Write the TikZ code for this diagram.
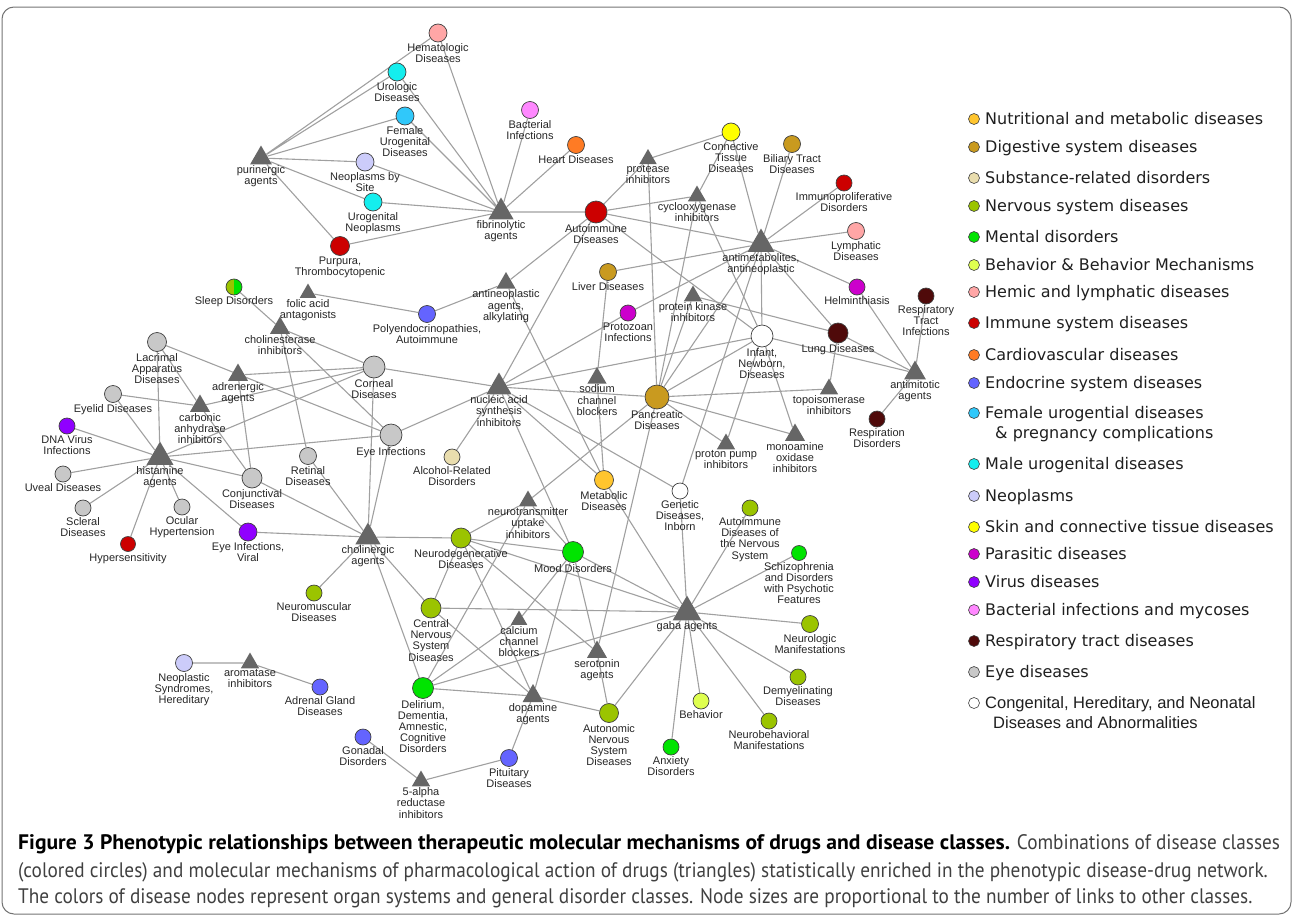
\documentclass[tikz,border=0pt]{standalone}
\usepackage{fontspec}
\setmainfont{Liberation Sans}
\newfontfamily\legfont{DejaVu Sans}
\newfontfamily\capfont[FakeStretch=0.917,BoldFeatures={FakeStretch=1.03}]{PT Sans}
\usetikzlibrary{shapes.geometric}
\pgfdeclarelayer{background}
\pgfsetlayers{background,main}
% disease class colours
\definecolor{nutri}{HTML}{FFC52E}
\definecolor{digest}{HTML}{C99A1F}
\definecolor{subst}{HTML}{E9DDAE}
\definecolor{nerv}{HTML}{9BC400}
\definecolor{mental}{HTML}{00E400}
\definecolor{behav}{HTML}{DFFF4F}
\definecolor{hemic}{HTML}{FFA6A6}
\definecolor{immune}{HTML}{CC0000}
\definecolor{cardio}{HTML}{FF7B24}
\definecolor{endo}{HTML}{6464FF}
\definecolor{female}{HTML}{30C8FA}
\definecolor{male}{HTML}{14EEEE}
\definecolor{neopl}{HTML}{CCCCFA}
\definecolor{skin}{HTML}{FFFF00}
\definecolor{parasit}{HTML}{CC00CC}
\definecolor{virus}{HTML}{9000FF}
\definecolor{bact}{HTML}{FF88FF}
\definecolor{resp}{HTML}{4F0A0A}
\definecolor{eye}{HTML}{C8C8C8}
\definecolor{edgegray}{HTML}{A0A0A0}
\definecolor{druggray}{HTML}{666666}
\begin{document}
\begin{tikzpicture}[x=1pt,y=-1pt,
    dis/.style={circle,draw=black!75,line width=0.7pt,inner sep=0pt,minimum size=#1},
    dis/.default=17,
    drug/.style={regular polygon,regular polygon sides=3,fill=druggray,inner sep=0pt,minimum size=#1},
    drug/.default=21,
    link/.style={draw=edgegray,line width=1.1pt},
    every label/.style={font=\fontsize{11}{11.2}\selectfont,align=center,inner sep=1pt,text=black!85},
    keyc/.style={circle,draw=black!75,line width=0.6pt,inner sep=0pt,minimum size=11},
    keyt/.style={anchor=base west,font=\legfont\fontsize{16}{19}\selectfont,text=black!88,inner sep=0pt},
    capt/.style={anchor=base west,font=\capfont\fontsize{21}{24}\selectfont,text=black!75,inner sep=0pt}]
\useasboundingbox (0,0) rectangle (1293,918);
\draw[black!55,line width=1pt,rounded corners=12] (2,7) rectangle (1291,914);

% ------ disease classes (circles) ------
\node[dis=18,fill=hemic,label={below:Hematologic\\Diseases}] (hemat) at (438,33) {};
\node[dis=18,fill=male,label={below:Urologic\\Diseases}] (urolog) at (397,72) {};
\node[dis=18,fill=female,label={below:Female\\Urogenital\\Diseases}] (femuro) at (405,116) {};
\node[dis=18,fill=neopl,label={below:Neoplasms by\\Site}] (neosite) at (365,162) {};
\node[dis=18,fill=male,label={below:Urogenital\\Neoplasms}] (urogneo) at (373,202) {};
\node[dis=19,fill=immune,label={below:Purpura,\\Thrombocytopenic}] (purpura) at (340,246) {};
\node[dis=17,fill=bact,label={below:Bacterial\\Infections}] (bacter) at (530,110) {};
\node[dis=17,fill=cardio,label={below:Heart Diseases}] (heart) at (576,145) {};
\node[dis=22,fill=immune,label={below:Autoimmune\\Diseases}] (autoimm) at (596,212) {};
\node[dis=18,fill=skin,label={below:Connective\\Tissue\\Diseases}] (connect) at (731,132) {};
\node[dis=17,fill=digest,label={below:Biliary Tract\\Diseases}] (biliary) at (792,144) {};
\node[dis=16,fill=immune,label={below:Immunoproliferative\\Disorders}] (immprol) at (844,183) {};
\node[dis=17,fill=hemic,label={below:Lymphatic\\Diseases}] (lymph) at (856,231) {};
\node[dis=16,fill=parasit,label={below:Helminthiasis}] (helmin) at (857,287) {};
\node[dis=16,fill=resp,label={below:Respiratory\\Tract\\Infections}] (resptr) at (926,296) {};
\node[dis=17,fill=digest,label={below:Liver Diseases}] (liver) at (608,272) {};
\node[dis=16,fill=mental,label={below:Sleep Disorders},
      path picture={\fill[nerv] (path picture bounding box.south west) rectangle (path picture bounding box.north);}] (sleep) at (234,287) {};
\node[dis=17,fill=endo,label={below:Polyendocrinopathies,\\Autoimmune}] (polyendo) at (427,314) {};
\node[dis=16,fill=parasit,label={below:Protozoan\\Infections}] (protozoa) at (628,313) {};
\node[dis=19,fill=eye,label={below:Lacrimal\\Apparatus\\Diseases}] (lacrimal) at (157,342) {};
\node[dis=17,fill=eye,label={below:Eyelid Diseases}] (eyelid) at (113,394) {};
\node[dis=16,fill=virus,label={below:DNA Virus\\Infections}] (dnavir) at (67,426) {};
\node[dis=16,fill=eye,label={below:Uveal Diseases}] (uveal) at (63,474) {};
\node[dis=16,fill=eye,label={below:Scleral\\Diseases}] (scleral) at (83,508) {};
\node[dis=16,fill=eye,label={below:Ocular\\Hypertension}] (ocular) at (182,507) {};
\node[dis=15,fill=immune,label={below:Hypersensitivity}] (hypers) at (128,544) {};
\node[dis=22,fill=eye,label={below:Corneal\\Diseases}] (corneal) at (374,367) {};
\node[dis=22,fill=eye,label={below:Eye Infections}] (eyeinf) at (391,435) {};
\node[dis=17,fill=eye,label={below:Retinal\\Diseases}] (retinal) at (308,456) {};
\node[dis=20,fill=eye,label={below:Conjunctival\\Diseases}] (conj) at (252,478) {};
\node[dis=18,fill=virus,label={below:Eye Infections,\\Viral}] (eyevir) at (248,532) {};
\node[dis=24,fill=digest,label={below:Pancreatic\\Diseases}] (pancr) at (657,397) {};
\node[dis=22,fill=white,label={below:Infant,\\Newborn,\\Diseases}] (infant) at (762,336) {};
\node[dis=20,fill=resp,label={below:Lung Diseases}] (lung) at (838,333) {};
\node[dis=16,fill=resp,label={below:Respiration\\Disorders}] (respdis) at (877,419) {};
\node[dis=16,fill=subst,label={below:Alcohol-Related\\Disorders}] (alcohol) at (452,457) {};
\node[dis=19,fill=nutri,label={below:Metabolic\\Diseases}] (metab) at (604,480) {};
\node[dis=16,fill=white,label={below:Genetic\\Diseases,\\Inborn}] (genetic) at (680,491) {};
\node[dis=20,fill=nerv,label={below:Neurodegenerative\\Diseases}] (neurodeg) at (461,538) {};
\node[dis=21,fill=mental,label={below:Mood Disorders}] (mood) at (573,552) {};
\node[dis=16,fill=nerv,label={below:Autoimmune\\Diseases of\\the Nervous\\System}] (autons) at (750,508) {};
\node[dis=15,fill=mental,label={below:Schizophrenia\\and Disorders\\with Psychotic\\Features}] (schizo) at (799,553) {};
\node[dis=16,fill=nerv,label={below:Neuromuscular\\Diseases}] (neuromus) at (314,593) {};
\node[dis=20,fill=nerv,label={below:Central\\Nervous\\System\\Diseases}] (cns) at (431,608) {};
\node[dis=21,fill=mental,label={below:Delirium,\\Dementia,\\Amnestic,\\Cognitive\\Disorders}] (delir) at (423,688) {};
\node[dis=19,fill=nerv,label={below:Autonomic\\Nervous\\System\\Diseases}] (autonom) at (609,713) {};
\node[dis=17,fill=nerv,label={below:Neurologic\\Manifestations}] (neurolog) at (810,624) {};
\node[dis=16,fill=nerv,label={below:Demyelinating\\Diseases}] (demyel) at (798,677) {};
\node[dis=16,fill=behav,label={below:Behavior}] (behav) at (701,701) {};
\node[dis=16,fill=nerv,label={below:Neurobehavioral\\Manifestations}] (neurobeh) at (769,721) {};
\node[dis=16,fill=mental,label={below:Anxiety\\Disorders}] (anxiety) at (671,747) {};
\node[dis=17,fill=neopl,label={below:Neoplastic\\Syndromes,\\Hereditary}] (neosyn) at (184,663) {};
\node[dis=16,fill=endo,label={below:Adrenal Gland\\Diseases}] (adrenal) at (320,687) {};
\node[dis=16,fill=endo,label={below:Gonadal\\Disorders}] (gonadal) at (363,737) {};
\node[dis=17,fill=endo,label={below:Pituitary\\Diseases}] (pituit) at (509,758) {};

% ------ drug mechanisms (triangles) ------
\node[drug=25,label={below:purinergic\\agents}] (purin) at (261,158) {};
\node[drug=29,label={below:fibrinolytic\\agents}] (fibrin) at (501,212) {};
\node[drug=20,label={below:protease\\inhibitors}] (protease) at (648,159) {};
\node[drug=21,label={below:cyclooxygenase\\inhibitors}] (cyclo) at (697,196) {};
\node[drug=31,label={below:antimetabolites,\\antineoplastic}] (antimet) at (761,244) {};
\node[drug=22,label={below:antineoplastic\\agents,\\alkylating}] (alkyl) at (506,283) {};
\node[drug=19,label={below:folic acid\\antagonists}] (folic) at (308,293) {};
\node[drug=21,label={below:protein kinase\\inhibitors}] (pkin) at (693,296) {};
\node[drug=23,label={below:cholinesterase\\inhibitors}] (cholest) at (280,328) {};
\node[drug=23,label={below:adrenergic\\agents}] (adren) at (238,375) {};
\node[drug=23,label={below:carbonic\\anhydrase\\inhibitors}] (carbon) at (200,406) {};
\node[drug=31,label={below:histamine\\agents}] (histam) at (160,457) {};
\node[drug=29,label={below:nucleic acid\\synthesis\\inhibitors}] (nucleic) at (499,387) {};
\node[drug=22,label={below:sodium\\channel\\blockers}] (sodium) at (597,378) {};
\node[drug=25,label={below:antimitotic\\agents}] (antimit) at (915,373) {};
\node[drug=21,label={below:topoisomerase\\inhibitors}] (topo) at (829,389) {};
\node[drug=21,label={below:proton pump\\inhibitors}] (proton) at (726,444) {};
\node[drug=23,label={below:monoamine\\oxidase\\inhibitors}] (monoam) at (795,435) {};
\node[drug=21,label={below:neurotransmitter\\uptake\\inhibitors}] (neurotr) at (528,501) {};
\node[drug=29,label={below:cholinergic\\agents}] (choler) at (368,537) {};
\node[drug=19,label={below:calcium\\channel\\blockers}] (calcium) at (519,620) {};
\node[drug=23,label={below:serotonin\\agents}] (seroton) at (597,652) {};
\node[drug=24,label={below:dopamine\\agents}] (dopam) at (533,696) {};
\node[drug=33,label={below:gaba agents}] (gaba) at (687,612) {};
\node[drug=21,label={below:aromatase\\inhibitors}] (aroma) at (250,663) {};
\node[drug=21,label={below:5-alpha\\reductase\\inhibitors}] (fivea) at (421,781) {};

% ------ links ------
\begin{pgfonlayer}{background}
\draw[link] (purin) -- (hemat) (purin) -- (urolog) (purin) -- (femuro)
  (purin) -- (neosite) (purin) -- (urogneo) (purin) -- (purpura);
\draw[link] (fibrin) -- (hemat) (fibrin) -- (urolog) (fibrin) -- (femuro)
  (fibrin) -- (bacter) (fibrin) -- (heart) (fibrin) -- (neosite)
  (fibrin) -- (urogneo) (fibrin) -- (purpura) (fibrin) -- (autoimm);
\draw[link] (autoimm) -- (protease) (autoimm) -- (cyclo) (autoimm) -- (antimet)
  (autoimm) -- (infant) (autoimm) -- (alkyl) (autoimm) -- (nucleic);
\draw[link] (protease) -- (connect) (protease) -- (pancr);
\draw[link] (cyclo) -- (connect) (cyclo) -- (infant) (cyclo) -- (pancr);
\draw[link] (antimet) -- (connect) (antimet) -- (biliary) (antimet) -- (immprol)
  (antimet) -- (lymph) (antimet) -- (helmin) (antimet) -- (liver)
  (antimet) -- (protozoa) (antimet) -- (pancr) (antimet) -- (infant)
  (antimet) -- (lung) (antimet) -- (genetic);
\draw[link] (liver) -- (sodium) (sodium) -- (metab);
\draw[link] (nucleic) -- (protozoa) (nucleic) -- (infant) (nucleic) -- (pancr)
  (nucleic) -- (corneal) (nucleic) -- (eyeinf) (nucleic) -- (alcohol)
  (nucleic) -- (metab) (nucleic) -- (genetic) (nucleic) -- (mood);
\draw[link] (pkin) -- (lung) (pkin) -- (pancr);
\draw[link] (infant) -- (antimit) (infant) -- (proton) (infant) -- (monoam) (infant) -- (pancr);
\draw[link] (lung) -- (antimit) (lung) -- (topo) (topo) -- (pancr);
\draw[link] (antimit) -- (helmin) (antimit) -- (resptr) (antimit) -- (respdis);
\draw[link] (pancr) -- (monoam) (pancr) -- (proton) (pancr) -- (neurotr) (pancr) -- (seroton);
\draw[link] (alkyl) -- (polyendo) (alkyl) -- (metab) (folic) -- (polyendo);
\draw[link] (metab) -- (gaba) (genetic) -- (gaba);
\draw[link] (sleep) -- (cholest) (cholest) -- (corneal) (cholest) -- (retinal) (cholest) -- (eyeinf);
\draw[link] (lacrimal) -- (histam) (lacrimal) -- (carbon) (lacrimal) -- (eyeinf);
\draw[link] (carbon) -- (eyelid) (carbon) -- (conj) (carbon) -- (corneal);
\draw[link] (adren) -- (corneal) (adren) -- (conj);
\draw[link] (histam) -- (eyelid) (histam) -- (dnavir) (histam) -- (uveal)
  (histam) -- (scleral) (histam) -- (ocular) (histam) -- (hypers)
  (histam) -- (eyevir) (histam) -- (conj) (histam) -- (corneal) (histam) -- (eyeinf);
\draw[link] (choler) -- (corneal) (choler) -- (eyeinf) (choler) -- (retinal)
  (choler) -- (conj) (choler) -- (eyevir) (choler) -- (neuromus)
  (choler) -- (neurodeg) (choler) -- (cns) (choler) -- (delir);
\draw[link] (neurodeg) -- (neurotr) (neurodeg) -- (mood) (neurodeg) -- (cns)
  (neurodeg) -- (gaba) (neurodeg) -- (seroton) (neurodeg) -- (dopam);
\draw[link] (neurotr) -- (delir) (neurotr) -- (mood);
\draw[link] (mood) -- (calcium) (mood) -- (dopam) (mood) -- (seroton) (mood) -- (gaba);
\draw[link] (calcium) -- (delir) (delir) -- (gaba) (delir) -- (dopam);
\draw[link] (cns) -- (gaba) (cns) -- (dopam);
\draw[link] (dopam) -- (autonom) (dopam) -- (pituit) (seroton) -- (autonom) (autonom) -- (gaba);
\draw[link] (gaba) -- (schizo) (gaba) -- (neurolog) (gaba) -- (demyel)
  (gaba) -- (neurobeh) (gaba) -- (behav) (gaba) -- (anxiety) (gaba) -- (autons);
\draw[link] (fivea) -- (pituit) (fivea) -- (gonadal);
\draw[link] (aroma) -- (neosyn) (aroma) -- (adrenal);
\end{pgfonlayer}

% ------ key ------
\node[keyc,fill=nutri] (k1) at (974,119) {};
\node[keyt] (t1) at (985,124.8) {Nutritional and metabolic diseases};
\node[keyc,fill=digest] (k2) at (974,147) {};
\node[keyt] (t2) at (985,152.8) {Digestive system diseases};
\node[keyc,fill=subst] (k3) at (974,178) {};
\node[keyt] (t3) at (985,183.8) {Substance-related disorders};
\node[keyc,fill=nerv] (k4) at (974,206) {};
\node[keyt] (t4) at (985,211.8) {Nervous system diseases};
\node[keyc,fill=mental] (k5) at (974,237) {};
\node[keyt] (t5) at (985,242.8) {Mental disorders};
\node[keyc,fill=behav] (k6) at (974,265) {};
\node[keyt] (t6) at (985,270.8) {Behavior \& Behavior Mechanisms};
\node[keyc,fill=hemic] (k7) at (974,292) {};
\node[keyt] (t7) at (985,297.8) {Hemic and lymphatic diseases};
\node[keyc,fill=immune] (k8) at (974,323) {};
\node[keyt] (t8) at (985,328.8) {Immune system diseases};
\node[keyc,fill=cardio] (k9) at (974,355) {};
\node[keyt] (t9) at (985,360.8) {Cardiovascular diseases};
\node[keyc,fill=endo] (k10) at (974,383) {};
\node[keyt] (t10) at (985,388.8) {Endocrine system diseases};
\node[keyc,fill=female] (k11) at (974,413) {};
\node[keyt] (t11) at (985,418.8) {Female urogential diseases};
\node[keyt] (t11b) at (995,438.8) {\& pregnancy complications};
\node[keyc,fill=male] (k12) at (974,464) {};
\node[keyt] (t12) at (985,469.8) {Male urogenital diseases};
\node[keyc,fill=neopl] (k13) at (974,496) {};
\node[keyt] (t13) at (985,501.8) {Neoplasms};
\node[keyc,fill=skin] (k14) at (974,527) {};
\node[keyt] (t14) at (985,532.8) {Skin and connective tissue diseases};
\node[keyc,fill=parasit] (k15) at (974,554) {};
\node[keyt] (t15) at (985,559.8) {Parasitic diseases};
\node[keyc,fill=virus] (k16) at (974,582) {};
\node[keyt] (t16) at (985,587.8) {Virus diseases};
\node[keyc,fill=bact] (k17) at (974,610) {};
\node[keyt] (t17) at (985,615.8) {Bacterial infections and mycoses};
\node[keyc,fill=resp] (k18) at (974,641) {};
\node[keyt] (t18) at (985,646.8) {Respiratory tract diseases};
\node[keyc,fill=eye] (k19) at (974,672) {};
\node[keyt] (t19) at (985,677.8) {Eye diseases};
\node[keyc,fill=white] (k20) at (974,703) {};
\node[keyt,font=\fontsize{16.5}{19}\selectfont] (t20) at (985,708.8) {Congenital, Hereditary, and Neonatal};
\node[keyt,font=\fontsize{16.5}{19}\selectfont] (t20b) at (993,728.8) {Diseases and Abnormalities};

% ------ caption ------
\node[capt] (cap1) at (18,849) {\textcolor{black}{\bfseries Figure 3 Phenotypic relationships between therapeutic molecular mechanisms of drugs and disease classes.} Combinations of disease classes};
\node[capt] (cap2) at (18,877) {(colored circles) and molecular mechanisms of pharmacological action of drugs (triangles) statistically enriched in the phenotypic disease-drug network.};
\node[capt] (cap3) at (18,903) {The colors of disease nodes represent organ systems and general disorder classes. Node sizes are proportional to the number of links to other classes.};
\end{tikzpicture}
\end{document}
